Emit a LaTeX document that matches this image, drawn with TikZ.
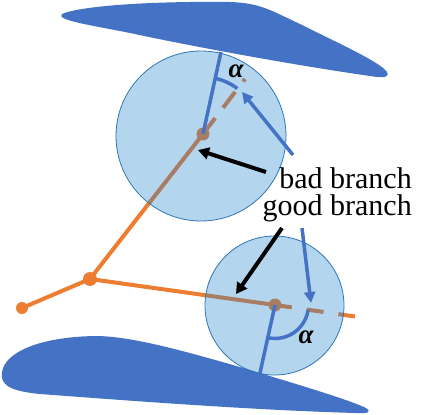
\documentclass[tikz,border=0pt]{standalone}
\usepackage{fontspec}
\setmainfont{Liberation Serif}
\newfontfamily\tnr{Liberation Serif}
\usetikzlibrary{arrows.meta,calc}
\definecolor{blobblue}{RGB}{68,114,196}
\definecolor{orng}{RGB}{237,125,49}
\definecolor{circfill}{RGB}{27,127,203}
\definecolor{circedge}{RGB}{46,117,182}
\definecolor{normblue}{RGB}{68,114,196}
\tikzset{
  blob/.style={fill=blobblue, draw=none},
  branch/.style={draw=orng, line width=4pt},
  dot/.style={circle, fill=orng, inner sep=0pt, minimum size=#1},
  ball/.style={fill=circfill, fill opacity=0.33, draw=circedge, line width=0.8pt},
  normal/.style={draw=normblue, line width=3.5pt},
  bluearrow/.style={draw=normblue, line width=3.5pt, -{Triangle[length=11pt,width=11pt]}},
  blackarrow/.style={draw=black, line width=4pt, -{Triangle[length=11pt,width=12pt]}},
  lbl/.style={font=\tnr\fontsize{30}{27}\selectfont, inner sep=0pt, align=right, anchor=north east},
  alph/.style={font=\tnr\fontsize{27}{27}\selectfont\bfseries\itshape, inner sep=0pt}
}
\begin{document}
\begin{tikzpicture}[x=1pt,y=-1pt]
\useasboundingbox (0,0) rectangle (432,415);
% obstacles
\path[blob] (62,14) .. controls (80,6) and (150,1) .. (230,2)
  .. controls (260,3) and (270,10) .. (300,24)
  .. controls (340,44) and (380,62) .. (387,72)
  .. controls (390,78) and (382,78) .. (370,76)
  .. controls (300,66) and (200,48) .. (130,33)
  .. controls (90,25) and (55,20) .. (62,14) -- cycle;
\path[blob] (2,372) .. controls (5,352) and (40,337) .. (95,336)
  .. controls (130,336) and (180,350) .. (233,365)
  .. controls (290,382) and (350,400) .. (366,408)
  .. controls (372,412) and (368,414) .. (355,413)
  .. controls (250,410) and (120,400) .. (40,394)
  .. controls (8,391) and (0,384) .. (2,372) -- cycle;
% tree
\node[dot=12pt] (P0) at (22,308) {};
\node[dot=14pt] (J) at (90,279) {};
\node[dot=13pt] (D1) at (203,134) {};
\node[dot=13pt] (D2) at (275,305) {};
\coordinate (E1) at (245,79);
\coordinate (E2) at (355,316.5);
\coordinate (T1) at (221,52);
\coordinate (T2) at (260,373);
\draw[branch] (P0.center) -- (J.center);
\draw[branch] (J.center) -- (D1.center);
\draw[branch] (J.center) -- (D2.center);
\draw[branch, dash pattern=on 20pt off 13pt] (D1.center) -- (E1);
\draw[branch, dash pattern=on 17pt off 15pt] (D2.center) -- (E2);
% balls
\path[ball] (201,136) circle[radius=85];
\path[ball] (274.5,305.5) circle[radius=69.5];
% normals and angles
\draw[normal] (D1.center) -- (T1);
\draw[normal] (D2.center) -- (T2);
\draw[normal] ($(D1.center)+(-77.6:57)$) arc[start angle=-77.6, end angle=-53, radius=57];
\draw[normal] ($(D2.center)+(100.3:33.5)$) arc[start angle=100.3, end angle=8.6, radius=33.5];
\node[alph] (A1) at (236,71) {α};
\node[alph] (A2) at (306,337) {α};
% labels
\node[lbl] (txt) at (412,167) {bad branch\\good branch};
\coordinate (B1s) at (293,155);
\coordinate (B1e) at (242,92);
\coordinate (B2s) at (302,228);
\coordinate (B2e) at (311,303);
\coordinate (K1s) at (266,172);
\coordinate (K1e) at (198,150);
\coordinate (K2s) at (282,228);
\coordinate (K2e) at (236,294);
\draw[bluearrow] (B1s) -- (B1e);
\draw[bluearrow] (B2s) -- (B2e);
\draw[blackarrow] (K1s) -- (K1e);
\draw[blackarrow] (K2s) -- (K2e);
\end{tikzpicture}
\end{document}
